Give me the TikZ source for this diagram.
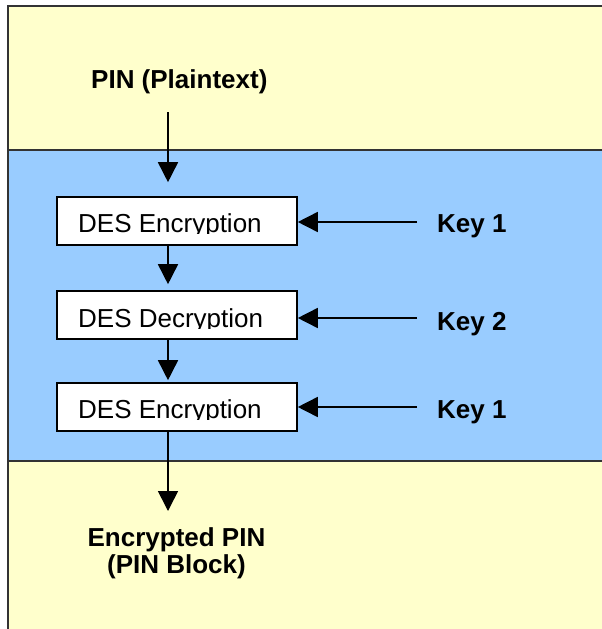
\documentclass[tikz,border=0pt]{standalone}
\usepackage{fontspec}
\setmainfont{Liberation Sans}
\usetikzlibrary{arrows.meta}
\definecolor{bandyellow}{HTML}{FFFFCC}
\definecolor{bandblue}{HTML}{99CCFF}
\definecolor{frameline}{HTML}{333333}
\begin{document}
\begin{tikzpicture}[x=1pt,y=-1pt,
  arr/.style={line width=1.6pt,-{Triangle[length=20pt,width=20pt]}},
  desbox/.style={draw=black,line width=1.6pt,fill=white,minimum width=240pt,minimum height=48pt,inner sep=0pt},
  lbl/.style={inner sep=0pt,font=\fontsize{26}{27}\selectfont},
  blbl/.style={inner sep=0pt,font=\fontsize{26}{27}\selectfont\bfseries},
  band/.style={frameline,line width=2pt}]
\useasboundingbox (0,0) rectangle (602,629);
\fill[bandyellow] (8,6) rectangle (610,150);
\fill[bandblue] (8,150) rectangle (610,461);
\fill[bandyellow] (8,461) rectangle (610,640);
\draw[band] (8,640) -- (8,6) -- (610,6);
\draw[band] (8,150) -- (610,150);
\draw[band] (8,461) -- (610,461);

\node[blbl,anchor=base west] (pin) at (91,88) {PIN (Plaintext)};
\node[desbox] (b1) at (177,221) {};
\node[desbox] (b2) at (177,315) {};
\node[desbox] (b3) at (177,407) {};
\begin{scope}
  \clip (58,198) rectangle (296,233.7);
  \node[lbl,anchor=base west] (t1) at (78,232.7) {DES Encryption};
\end{scope}
\begin{scope}
  \clip (58,292) rectangle (296,328);
  \node[lbl,anchor=base west] (t2) at (78,327) {DES Decryption};
\end{scope}
\begin{scope}
  \clip (58,384) rectangle (296,419);
  \node[lbl,anchor=base west] (t3) at (78,418) {DES Encryption};
\end{scope}

\node[blbl,anchor=base west] (k1) at (437,232) {Key 1};
\node[blbl,anchor=base west] (k2) at (437,330) {Key 2};
\node[blbl,anchor=base west] (k3) at (437,418) {Key 1};

\node[blbl,align=center,anchor=north] (out) at (176.5,527) {Encrypted PIN\\(PIN Block)};

\coordinate (a0) at (168,112);
\draw[arr,shorten >=14pt] (a0) -- (a0 |- b1.north);
\draw[arr,shorten >=6pt] (b1.south -| a0) -- (b2.north -| a0);
\draw[arr,shorten >=2pt] (b2.south -| a0) -- (b3.north -| a0);
\draw[arr,shorten >=16pt] (b3.south -| a0) -- (out.north -| a0);

\coordinate (k1a) at (417,222);
\coordinate (k2a) at (417,318);
\coordinate (k3a) at (417,407);
\draw[arr] (k1a) -- (k1a -| b1.east);
\draw[arr] (k2a) -- (k2a -| b2.east);
\draw[arr] (k3a) -- (k3a -| b3.east);
\end{tikzpicture}
\end{document}
